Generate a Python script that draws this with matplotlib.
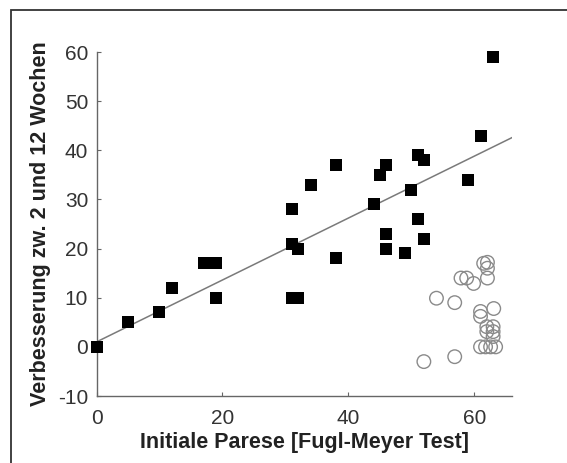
import matplotlib
matplotlib.use("Agg")
import matplotlib.pyplot as plt
from matplotlib.patches import Rectangle
import numpy as np

# filled squares (group used for the fit)
sq_x = [0, 5, 10, 12, 17, 19, 19, 31, 31, 32, 31, 32, 34, 38, 38, 44, 45, 46, 46, 46,
        49, 50, 51, 52, 51, 52, 59, 61, 63]
sq_y = [0, 5, 7, 12, 17, 17, 10, 28, 21, 20, 10, 10, 33, 37, 18, 29, 35, 37, 23, 20,
        19, 32, 39, 38, 26, 22, 34, 43, 59]

# open circles
ci_x = [61.5, 62.1, 62.1, 62.1, 57.9, 58.8, 59.9, 54.0, 56.9, 61.0, 61.0, 63.1,
        62.0, 63.0, 62.0, 63.0, 63.0, 61.0, 61.8, 62.6, 63.4, 52.0, 56.9]
ci_y = [17.0, 17.2, 16.0, 14.0, 14.0, 14.0, 12.9, 9.9, 9.0, 7.2, 6.2, 7.8,
        4.1, 4.1, 3.1, 3.1, 2.1, 0, 0, 0, 0, -3.0, -2.0]

# regression line
fit_intercept = 1.0
fit_slope = 0.63

x_ticks = [0, 20, 40, 60]
y_ticks = [-10, 0, 10, 20, 30, 40, 50, 60]

plt.rcParams["font.family"] = ["Liberation Sans", "DejaVu Sans"]
plt.rcParams["axes.unicode_minus"] = False

fig = plt.figure(figsize=(5.67, 4.63), dpi=100)
ax = fig.add_axes([96.5 / 567, (463 - 396) / 463, (512 - 96.5) / 567, (396 - 52) / 463])

# frame around the figure (only top and left edges are visible)
fig.patches.append(Rectangle((11 / 567, -0.2), 2, (463 - 10) / 463 + 0.2,
                             transform=fig.transFigure, fill=False,
                             edgecolor="#333333", linewidth=1.3))

xl = np.array([0, 66])
ax.plot(xl, fit_intercept + fit_slope * xl, color="#7a7a7a", linewidth=1.1, zorder=2)

ax.scatter(ci_x, ci_y, s=95, marker="o", facecolors="none", edgecolors="#8a8a8a",
           linewidths=1.0, zorder=3, clip_on=False)
ax.scatter(sq_x, sq_y, s=64, marker="s", color="black", linewidths=0, zorder=4,
           clip_on=False)

ax.set_xlim(0, 66)
ax.set_ylim(-10, 60)
ax.set_xticks(x_ticks)
ax.set_yticks(y_ticks)

for side in ["top", "right"]:
    ax.spines[side].set_visible(False)
for side in ["left", "bottom"]:
    ax.spines[side].set_color("#666666")
    ax.spines[side].set_linewidth(1.0)

ax.tick_params(direction="in", length=3, width=0.8, color="#666666",
               labelsize=15, labelcolor="#333333")
ax.tick_params(axis="x", pad=9)
ax.tick_params(axis="y", pad=6)

ax.set_xlabel("Initiale Parese [Fugl-Meyer Test]", fontsize=15.5, fontweight="bold",
              color="#222222", labelpad=3)
ax.set_ylabel("Verbesserung zw. 2 und 12 Wochen", fontsize=15.5, fontweight="bold",
              color="#222222", labelpad=5)

fig.savefig("out.png", dpi=100)
